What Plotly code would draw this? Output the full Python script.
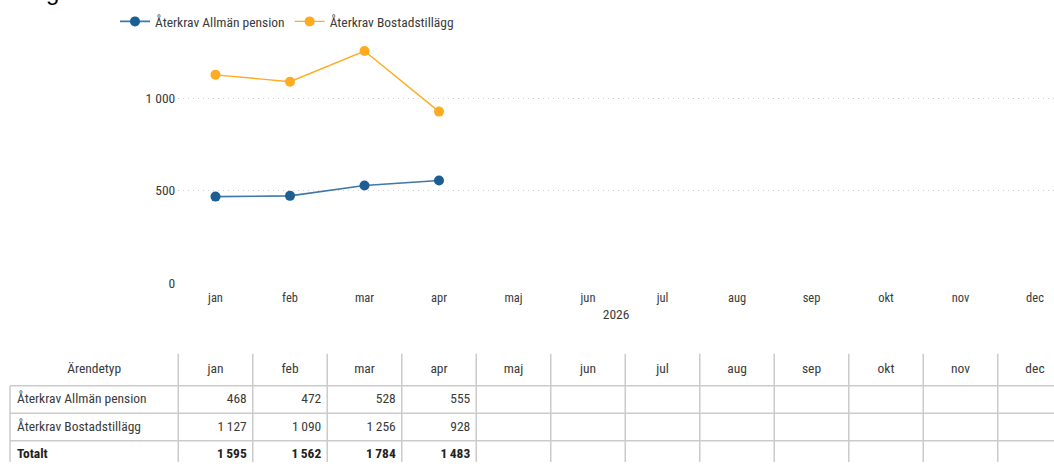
import plotly.graph_objects as go

# ---------------- data ----------------
months = ["jan", "feb", "mar", "apr", "maj", "jun", "jul", "aug", "sep", "okt", "nov", "dec"]
series_names = ["Återkrav Allmän pension", "Återkrav Bostadstillägg"]
allman_pension = [468, 472, 528, 555]
bostadstillagg = [1127, 1090, 1256, 928]
year_label = "2026"
y_tick_values = [0, 500, 1000]
table_first_header = "Ärendetyp"
total_label = "Totalt"
title_fragment = "g"   # only the descender of the (cropped) title is visible

# ---------------- style / geometry ----------------
W, H = 1054, 470
FONT = "Liberation Sans Narrow, Arial Narrow, Roboto Condensed, DejaVu Sans Condensed, sans-serif"
TXT = "#3a3a3a"
BLUE_DOT = "#1b5e96"
BLUE_LINE = "#3f77a8"
ORANGE = "#ffab1f"
GRID = "#cfcfcf"
BORDER = "#cbcbcb"

plot_left = 178.25   # px, left edge of plot area
step = 74.5          # px per month category


def u(px):
    """pixel x -> category units of the month axis"""
    return -0.5 + (px - plot_left) / step


def fmt(v):
    return f"{v:,}".replace(",", "\u2009")


y_bottom_px, y_top_px = 288, 43.6
y_max = 1300

fig = go.Figure()

fig.add_trace(go.Scatter(
    x=months[:len(allman_pension)], y=allman_pension, name=series_names[0],
    mode="lines+markers", line=dict(color=BLUE_LINE, width=1.6),
    marker=dict(color=BLUE_DOT, size=10), xaxis="x", yaxis="y"))
fig.add_trace(go.Scatter(
    x=months[:len(bostadstillagg)], y=bostadstillagg, name=series_names[1],
    mode="lines+markers", line=dict(color=ORANGE, width=1.4),
    marker=dict(color=ORANGE, size=10), xaxis="x", yaxis="y"))

# ---------------- table (drawn on its own axes sharing the month scale) ----------------
rows = [allman_pension, bostadstillagg]
totals = [a + b for a, b in zip(allman_pension, bostadstillagg)]
row_labels = series_names + [total_label]
row_values = rows + [totals]

header_y = 376.5
row_y = [407, 435, 463]
first_col_left = u(10)
first_col_center = (first_col_left + (-0.5)) / 2
TFS = 13.5

# header
fig.add_trace(go.Scatter(
    x=[first_col_center] + list(range(len(months))),
    y=[header_y] * (len(months) + 1),
    text=[table_first_header] + months, mode="text", textposition="middle center",
    textfont=dict(family=FONT, size=TFS, color=TXT),
    xaxis="x2", yaxis="y2", showlegend=False, hoverinfo="skip"))

# row labels and values
for r, lab in enumerate(row_labels):
    bold = lab == total_label
    fig.add_trace(go.Scatter(
        x=[first_col_left + 7 / step], y=[row_y[r]],
        text=[f"<b>{lab}</b>" if bold else lab], mode="text", textposition="middle right",
        textfont=dict(family=FONT, size=TFS, color="#222" if bold else TXT),
        xaxis="x2", yaxis="y2", showlegend=False, hoverinfo="skip"))
    vals = row_values[r]
    fig.add_trace(go.Scatter(
        x=[i + 0.5 - 6 / step for i in range(len(vals))], y=[row_y[r]] * len(vals),
        text=[f"<b>{fmt(v)}</b>" if bold else fmt(v) for v in vals],
        mode="text", textposition="middle left",
        textfont=dict(family=FONT, size=TFS, color="#222" if bold else TXT),
        xaxis="x2", yaxis="y2", showlegend=False, hoverinfo="skip"))

shapes = []
# vertical separators
for k in range(len(months) + 1):
    xv = k - 0.5
    shapes.append(dict(type="line", xref="x2", yref="y2", x0=xv, x1=xv, y0=360, y1=480,
                       line=dict(color=BORDER, width=1.5)))
# left border of body rows
shapes.append(dict(type="line", xref="x2", yref="y2", x0=first_col_left, x1=first_col_left,
                   y0=392.5, y1=480, line=dict(color=BORDER, width=1.5)))
# horizontal lines
for yy in [392.5, 420.5, 448.5]:
    shapes.append(dict(type="line", xref="x2", yref="y2", x0=first_col_left, x1=u(W) + 1,
                       y0=yy, y1=yy, line=dict(color=BORDER, width=1.5)))

fig.update_layout(
    width=W, height=H,
    margin=dict(l=0, r=0, t=0, b=0),
    paper_bgcolor="white", plot_bgcolor="white",
    font=dict(family=FONT, size=12, color=TXT),
    separators=", ",
    showlegend=True,
    legend=dict(orientation="h", x=115 / W, y=(H - 22) / H, xanchor="left", yanchor="middle",
                font=dict(family=FONT, size=TFS, color=TXT), bgcolor="rgba(0,0,0,0)",
                itemclick=False, itemdoubleclick=False),
    xaxis=dict(type="category", categoryorder="array", categoryarray=months,
               domain=[plot_left / W, 1], range=[-0.5, u(W)],
               showgrid=False, showline=False, zeroline=False, ticks="",
               tickfont=dict(family=FONT, size=12.5, color=TXT), ticklabelstandoff=5,
               title=dict(text=year_label, font=dict(family=FONT, size=13.5, color=TXT), standoff=5),
               anchor="y", fixedrange=True),
    yaxis=dict(domain=[(H - y_bottom_px) / H, (H - y_top_px) / H], range=[0, y_max],
               tickvals=y_tick_values, tickformat=",", showgrid=True, gridcolor=GRID,
               griddash="1px,4px", gridwidth=1, zeroline=False, showline=False, ticks="",
               tickfont=dict(family=FONT, size=13.5, color=TXT), ticklabelstandoff=2,
               anchor="x", fixedrange=True),
    xaxis2=dict(domain=[0, 1], range=[u(0), u(W)], visible=False, anchor="y2", fixedrange=True),
    yaxis2=dict(domain=[0, (H - 355) / H], range=[470, 355], visible=False, anchor="x2",
                fixedrange=True),
    shapes=shapes,
    annotations=[dict(text=title_fragment, xref="paper", yref="paper", x=52 / W, y=1,
                      xanchor="center", yanchor="bottom", yshift=-7, showarrow=False,
                      font=dict(family="Liberation Sans, Arial, sans-serif", size=24,
                                color="#000000"))],
)

page_css = (
    "document.documentElement.style.margin='0';"
    "document.documentElement.style.overflow='hidden';"
    "document.body.style.margin='0';"
    "document.body.style.overflow='hidden';"
)

fig.write_html(
    "out.html",
    config={"displayModeBar": False, "responsive": False},
    post_script=page_css,
)
